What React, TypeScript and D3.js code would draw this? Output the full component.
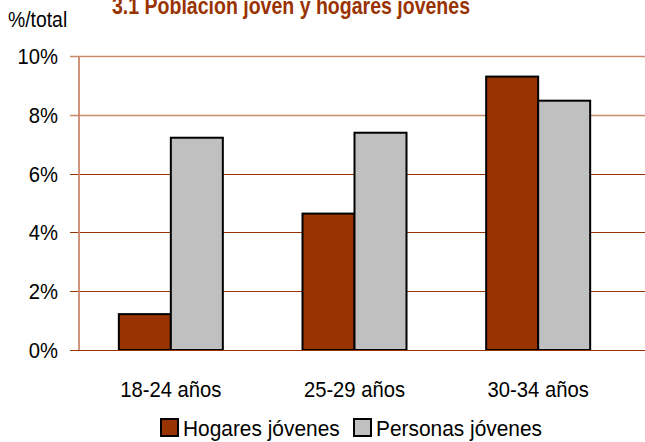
import React from "react";
import * as d3 from "d3";

// data
const categories = ["18-24 años", "25-29 años", "30-34 años"];
const seriesNames = ["Hogares jóvenes", "Personas jóvenes"];
const hogares = [1.22, 4.64, 9.3];
const personas = [7.22, 7.39, 8.48];
const yTicks = [0, 2, 4, 6, 8, 10];
const title = "3.1 Población joven y hogares jóvenes";
const yLabel = "%/total";

const colors = ["#993300", "#C0C0C0"];
const W = 645;
const H = 442;
const FONT = "'Liberation Sans', Arial, sans-serif";
const SX = 0.92; // the original font is a bit condensed

const App = () => {
  const x0 = d3.scaleBand<string>().domain(categories).range([79, 630]).padding(0);
  const x1 = d3
    .scaleBand<string>()
    .domain(seriesNames)
    .range([0, x0.bandwidth()])
    .paddingInner(0)
    .paddingOuter(0.766);
  const y = d3.scaleLinear().domain([0, 10]).range([350, 56]);

  const values = [hogares, personas];

  const txt = (
    s: string,
    xx: number,
    yy: number,
    anchor: string,
    size = 22,
    sx = SX
  ) => (
    <text
      transform={`translate(${xx},${yy}) scale(${sx},1)`}
      textAnchor={anchor}
      fontSize={size}
      fontFamily={FONT}
      fill="#000"
    >
      {s}
    </text>
  );

  return (
    <svg
      width={W}
      height={H}
      style={{ position: "absolute", left: 0, top: 0, background: "#fff" }}
    >
      {/* title is clipped at the top edge, as in the original */}
      <text
        x={112}
        y={14}
        textLength={358}
        lengthAdjust="spacingAndGlyphs"
        fontSize={24}
        fontWeight="bold"
        fontFamily={FONT}
        fill="#993300"
      >
        {title}
      </text>
      {txt(yLabel, 8, 27, "start", 22, 0.88)}

      {/* gridlines + ticks */}
      {yTicks.map((t) => (
        <g key={t}>
          <line
            x1={70}
            x2={W}
            y1={Math.round(y(t)) + 0.5}
            y2={Math.round(y(t)) + 0.5}
            stroke={t >= 8 ? "#c98a6c" : "#993300"}
            strokeWidth={t >= 8 ? 1.5 : 1}
          />
          {txt(`${t}%`, 58, y(t) + 8, "end", 22)}
        </g>
      ))}
      <line x1={79} x2={79} y1={y(10)} y2={y(0)} stroke="#c98a6c" strokeWidth={1.8} />

      {/* bars */}
      {categories.map((c, i) => (
        <g key={c} transform={`translate(${x0(c)},0)`}>
          {seriesNames.map((s, j) => (
            <rect
              key={s}
              x={x1(s)}
              y={y(values[j][i])}
              width={x1.bandwidth()}
              height={y(0) - y(values[j][i])}
              fill={colors[j]}
              stroke="#000"
              strokeWidth={2}
            />
          ))}
        </g>
      ))}
      <line x1={79} x2={W} y1={350.5} y2={350.5} stroke="#993300" strokeWidth={1} />

      {/* category labels */}
      {categories.map((c) => (
        <g key={c}>{txt(c, (x0(c) as number) + x0.bandwidth() / 2, 397, "middle", 22)}</g>
      ))}

      {/* legend */}
      {seriesNames.map((s, j) => {
        const lx = [161, 354][j];
        return (
          <g key={s}>
            <rect x={lx} y={419} width={17} height={17} fill={colors[j]} stroke="#000" strokeWidth={2} />
            {txt(s, lx + 22, 436, "start", 22, 0.95)}
          </g>
        );
      })}
    </svg>
  );
};

export default App;
